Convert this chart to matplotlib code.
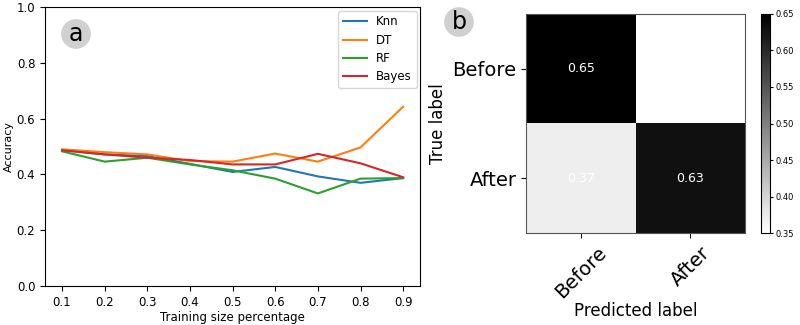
import numpy as np
import matplotlib.pyplot as plt

# Datos panel a
train_size = [0.1, 0.2, 0.3, 0.4, 0.5, 0.6, 0.7, 0.8, 0.9]
knn = [0.487, 0.472, 0.466, 0.438, 0.409, 0.427, 0.393, 0.370, 0.387]
dt = [0.490, 0.480, 0.472, 0.448, 0.446, 0.475, 0.446, 0.497, 0.643]
rf = [0.483, 0.446, 0.460, 0.436, 0.415, 0.385, 0.332, 0.385, 0.387]
bayes = [0.487, 0.472, 0.460, 0.452, 0.436, 0.436, 0.474, 0.440, 0.390]

# Datos panel b (matriz de confusión normalizada)
classes = ["Before", "After"]
cm = np.array([[0.65, 0.35],
               [0.37, 0.63]])

fig = plt.figure(figsize=(8, 3.25), dpi=100)

# Panel a
ax1 = fig.add_axes([0.05625, 0.12, 0.469, 0.858])
ax1.plot(train_size, knn, color='#1f77b4', label='Knn', linewidth=1.5)
ax1.plot(train_size, dt, color='#ff7f0e', label='DT', linewidth=1.5)
ax1.plot(train_size, rf, color='#2ca02c', label='RF', linewidth=1.5)
ax1.plot(train_size, bayes, color='#d62728', label='Bayes', linewidth=1.5)
ax1.set_ylim(0, 1.0)
ax1.set_xticks(train_size)
ax1.set_xticklabels([f"{v:.1f}" for v in train_size])
ax1.tick_params(labelsize=8.5)
ax1.set_xlabel("Training size percentage", fontsize=8.5, labelpad=2)
ax1.set_ylabel("Accuracy", fontsize=8, labelpad=2)
ax1.legend(loc='upper right', fontsize=8.5, borderaxespad=0.3, labelspacing=0.45)

# Panel b
ax2 = fig.add_axes([0.6575, 0.283, 0.274, 0.674])
im = ax2.imshow(cm, cmap='gray_r', vmin=0.35, vmax=0.65, interpolation='nearest')
ax2.set_xticks(range(len(classes)))
ax2.set_yticks(range(len(classes)))
ax2.set_xticklabels(classes, rotation=45, fontsize=14)
ax2.set_yticklabels(classes, fontsize=14)
for sp in ax2.spines.values():
    sp.set_color('#555555')
for i in range(cm.shape[0]):
    for j in range(cm.shape[1]):
        ax2.text(j, i, f"{cm[i, j]:.2f}", ha='center', va='center', color='white', fontsize=9)
ax2.set_xlabel("Predicted label", fontsize=12, labelpad=0)
ax2.set_ylabel("True label", fontsize=12)

cax = fig.add_axes([0.951, 0.283, 0.012, 0.674])
cb = fig.colorbar(im, cax=cax, ticks=[0.35, 0.40, 0.45, 0.50, 0.55, 0.60, 0.65])
cb.ax.tick_params(labelsize=6, pad=1.5, length=2.5)

# Etiquetas de panel
circ = dict(boxstyle='circle,pad=0.12', facecolor='#d0d0d0', edgecolor='none')
fig.text(76 / 800, 1 - 34 / 325, "a", fontsize=17, ha='center', va='center', bbox=circ)
fig.text(459 / 800, 1 - 22 / 325, "b", fontsize=17, ha='center', va='center', bbox=circ)

fig.savefig("out.png", dpi=100)
